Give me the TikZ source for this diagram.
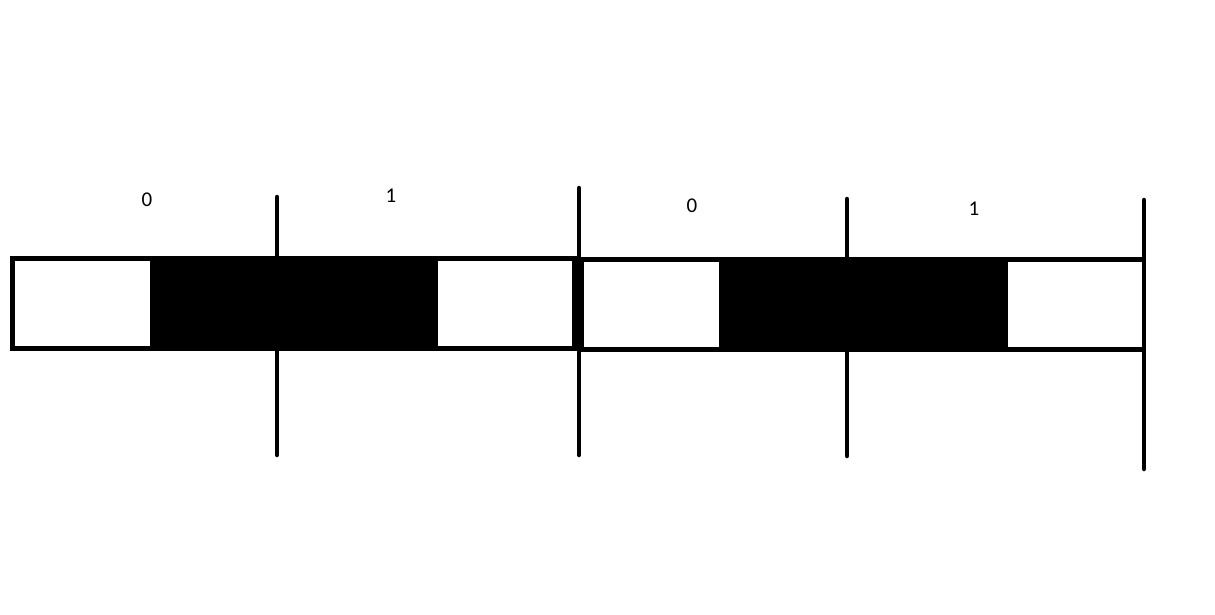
\documentclass[tikz,border=0pt]{standalone}
\usepackage{fontspec}
\setmainfont{Carlito}
\begin{document}
\begin{tikzpicture}[x=1pt,y=-1pt,
  boxline/.style={draw=black,line width=5pt},
  fillblk/.style={fill=black,draw=none},
  tick/.style={draw=black,line width=4.5pt,line cap=round},
  lbl/.style={font=\fontsize{21}{23}\selectfont,inner sep=0pt,anchor=center}]
\useasboundingbox[fill=white] (0,0) rectangle (1215,614);
% boxes
\draw[boxline] (12.5,258.5) rectangle (574.5,348.5);
\draw[boxline] (581.5,259.5) -- (1144,259.5);
\draw[boxline] (581.5,349) -- (1144,349);
\draw[boxline] (581.5,257) -- (581.5,351.5);
% black segments
\fill[fillblk] (150,256) rectangle (438,351);
\fill[fillblk] (719,257) rectangle (1008,351.5);
% vertical markers
\coordinate (t1) at (277,197); \coordinate (b1) at (277,455);
\coordinate (t2) at (579,188); \coordinate (b2) at (579,455);
\coordinate (t3) at (847,199); \coordinate (b3) at (847,456);
\coordinate (t4) at (1144,200); \coordinate (b4) at (1144,469);
\draw[tick] (t1) -- (b1);
\draw[tick] (t2) -- (b2);
\draw[tick] (t3) -- (b3);
\draw[tick] (t4) -- (b4);
% labels
\node[lbl] (l1) at (147,200) {0};
\node[lbl] (l2) at (391,196) {1};
\node[lbl] (l3) at (692,206) {0};
\node[lbl] (l4) at (974,209) {1};
\end{tikzpicture}
\end{document}
